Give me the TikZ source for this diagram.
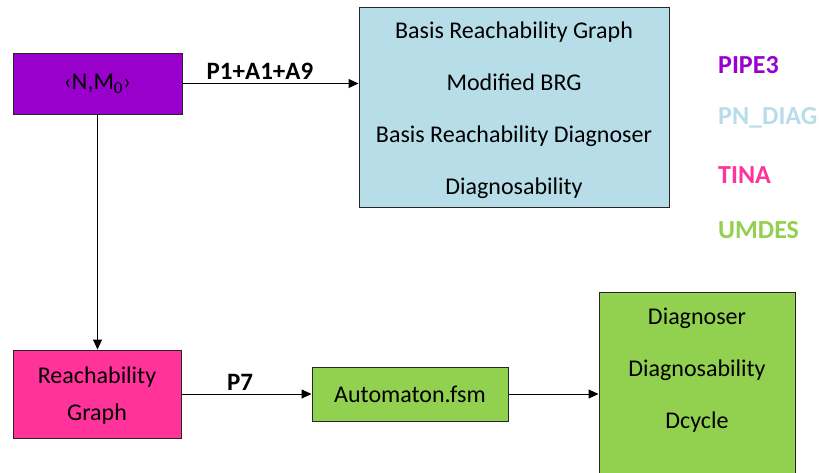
\documentclass[tikz,border=0pt]{standalone}
\usepackage{fontspec}
\setmainfont{Carlito}
\usetikzlibrary{arrows.meta}

\begin{document}
\begin{tikzpicture}[x=1pt, y=-1pt,
    box/.style={draw=black!85, line width=1pt, align=center, inner sep=0pt,
        font=\fontsize{24}{29}\selectfont},
    link/.style={draw, line width=1pt, -{Triangle[length=10pt,width=9pt]}},
    tag/.style={font=\fontsize{25}{30}\selectfont\bfseries}]
    % Define tool colors
    \definecolor{pipe}{RGB}{153,0,204}
    \definecolor{pndiag}{RGB}{183,222,232}
    \definecolor{tina}{RGB}{255,51,153}
    \definecolor{umdes}{RGB}{146,208,80}

    \useasboundingbox (0,0) rectangle (819,472);
    \clip (0,0) rectangle (819,472);

    % Net and its reachability graph
    \node[box, fill=pipe, minimum width=169pt, minimum height=61pt] (net) at (97.5,83.5) {‹N,M\textsubscript{0}›};
    \node[box, fill=tina, minimum width=168pt, minimum height=88pt] (rg) at (97,394) {};
    \node[align=center, font=\fontsize{24}{37}\selectfont] (rgtext) at (97,396) {Reachability\\Graph};

    % Basis reachability results
    \node[box, fill=pndiag, minimum width=310pt, minimum height=200pt] (brg) at (514,107) {};
    \node[align=center, font=\fontsize{24}{52}\selectfont] (brgtext) at (514,110)
        {Basis Reachability Graph\\Modified BRG\\Basis Reachability Diagnoser\\Diagnosability};

    % Automaton and diagnoser
    \node[box, fill=umdes, minimum width=196pt, minimum height=54pt] (fsm) at (410,394) {Automaton.fsm};
    \node[box, fill=umdes, minimum width=196pt, minimum height=240pt, anchor=north] (diag) at (697,292) {};
    \node[align=center, font=\fontsize{24}{52}\selectfont] (diagtext) at (697,370) {Diagnoser\\Diagnosability\\Dcycle};

    % Connections
    \draw[link] (net.east) -- node[tag, above, pos=0.44] (lblA) {P1+A1+A9} (net.east -| brg.west);
    \draw[link] (net.south) -- (net.south |- rg.north);
    \draw[link] (rg) -- node[tag, above, pos=0.45] (lblB) {P7} (fsm);
    \draw[link] (fsm.east) -- (fsm.east -| diag.west);

    % Legend
    \foreach \name/\col/\y in {PIPE3/pipe/65, PN\_DIAG/pndiag/118, TINA/tina/175, UMDES/umdes/230} {
        \node[tag, font=\fontsize{26}{31}\selectfont\bfseries, text=\col, anchor=west, inner sep=0pt] (leg-\col) at (718,\y) {\name};
    }
\end{tikzpicture}
\end{document}
